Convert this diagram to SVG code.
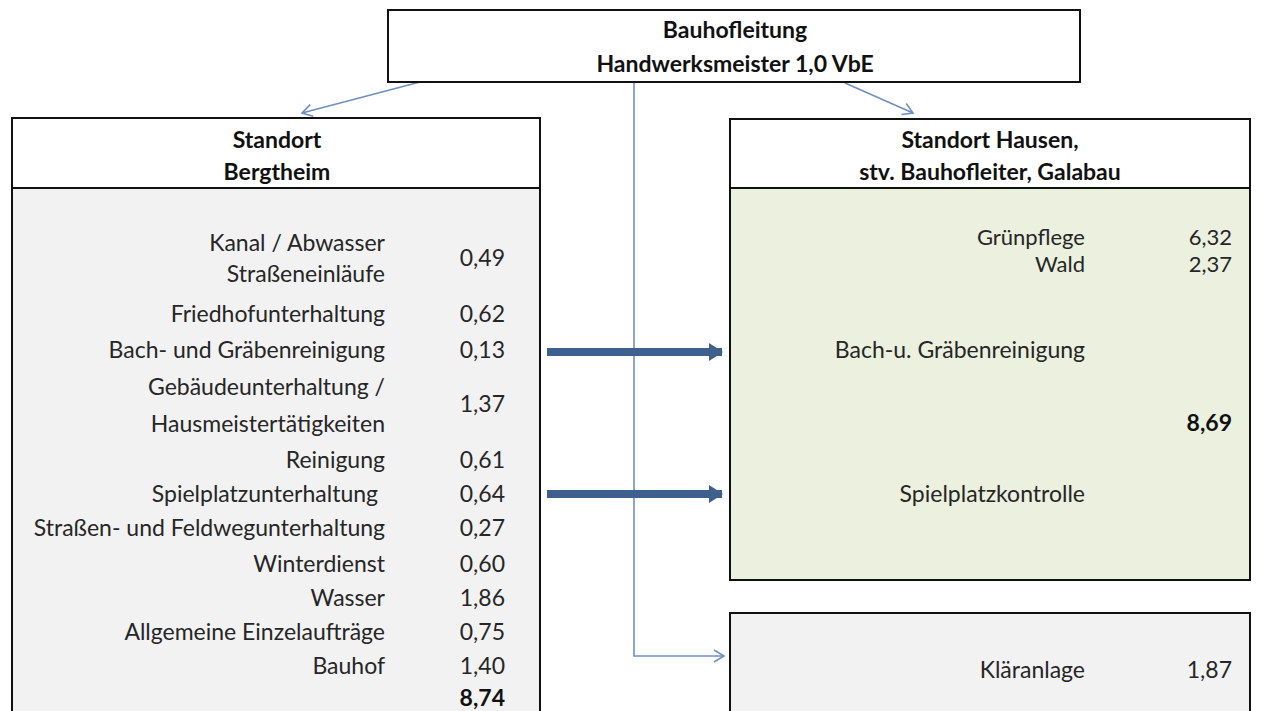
<svg xmlns="http://www.w3.org/2000/svg" width="1270" height="711" viewBox="0 0 1270 711">
<style>
  text { font-family: Lato, "Liberation Sans", sans-serif; font-size: 23px; fill: #262626; }
  .b { font-weight: bold; fill: #111; }
  .r { text-anchor: end; }
  .c { text-anchor: middle; }
  .s { font-size: 22px; }
  .box { stroke: #111; stroke-width: 2; }
  .thin { fill: none; stroke: #6f8fc2; stroke-width: 1.6; }
  .thick { fill: none; stroke: #3f5f8e; stroke-width: 8; }
</style>
<defs>
  <marker id="open" markerUnits="userSpaceOnUse" markerWidth="16" markerHeight="16" refX="12" refY="7" orient="auto" viewBox="0 0 16 14">
    <path d="M2,1 L12,7 L2,13" fill="none" stroke="#6f8fc2" stroke-width="1.6"/>
  </marker>
  <marker id="solid" markerUnits="userSpaceOnUse" markerWidth="14" markerHeight="18" refX="13" refY="9" orient="auto" viewBox="0 0 14 18">
    <path d="M0,0 L14,9 L0,18 Z" fill="#3f5f8e"/>
  </marker>
</defs>
<rect width="1270" height="711" fill="#ffffff"/>

<g id="connectors">
  <line class="thin" x1="420" y1="82" x2="302" y2="113" marker-end="url(#open)"/>
  <line class="thin" x1="845" y1="83" x2="913" y2="113" marker-end="url(#open)"/>
  <polyline class="thin" points="634,82 634,656 724,656" marker-end="url(#open)"/>
</g>

<g id="bauhofleitung">
  <rect class="box" x="388" y="10" width="692" height="72" fill="#ffffff"/>
  <text class="b c" x="735" y="38">Bauhofleitung</text>
  <text class="b c" x="735" y="72">Handwerksmeister 1,0 VbE</text>
</g>

<g id="standort-bergtheim">
  <rect x="12" y="188" width="528" height="530" fill="#f2f2f2"/>
  <rect x="12" y="118" width="528" height="70" fill="#ffffff"/>
  <path class="box" fill="none" d="M12,720 L12,118 L540,118 L540,720 M12,188 L540,188"/>
  <text class="b c" x="277" y="148">Standort</text>
  <text class="b c" x="277" y="180">Bergtheim</text>
  <text class="r" x="385" y="251">Kanal / Abwasser</text>
  <text class="r" x="505" y="266">0,49</text>
  <text class="r" x="385" y="282">Straßeneinläufe</text>
  <text class="r" x="385" y="322">Friedhofunterhaltung</text>
  <text class="r" x="505" y="322">0,62</text>
  <text class="r" x="385" y="358">Bach- und Gräbenreinigung</text>
  <text class="r" x="505" y="358">0,13</text>
  <text class="r" x="385" y="395">Gebäudeunterhaltung /</text>
  <text class="r" x="505" y="412">1,37</text>
  <text class="r" x="385" y="432">Hausmeistertätigkeiten</text>
  <text class="r" x="385" y="468">Reinigung</text>
  <text class="r" x="505" y="468">0,61</text>
  <text class="r" x="378" y="502">Spielplatzunterhaltung</text>
  <text class="r" x="505" y="502">0,64</text>
  <text class="r" x="385" y="536">Straßen- und Feldwegunterhaltung</text>
  <text class="r" x="505" y="536">0,27</text>
  <text class="r" x="385" y="572">Winterdienst</text>
  <text class="r" x="505" y="572">0,60</text>
  <text class="r" x="385" y="606">Wasser</text>
  <text class="r" x="505" y="606">1,86</text>
  <text class="r" x="385" y="640">Allgemeine Einzelaufträge</text>
  <text class="r" x="505" y="640">0,75</text>
  <text class="r" x="385" y="674">Bauhof</text>
  <text class="r" x="505" y="674">1,40</text>
  <text class="b r" x="505" y="706">8,74</text>
</g>

<g id="standort-hausen">
  <rect x="730" y="188" width="520" height="392" fill="#ebf0df"/>
  <rect x="730" y="119" width="520" height="69" fill="#ffffff"/>
  <rect class="box" x="730" y="119" width="520" height="461" fill="none"/>
  <line class="box" x1="730" y1="188" x2="1250" y2="188"/>
  <text class="b c" x="990" y="148">Standort Hausen,</text>
  <text class="b c" x="990" y="180">stv. Bauhofleiter, Galabau</text>
  <text class="r s" x="1085" y="245">Grünpflege</text>
  <text class="r s" x="1232" y="245">6,32</text>
  <text class="r s" x="1085" y="272">Wald</text>
  <text class="r s" x="1232" y="272">2,37</text>
  <text class="r" x="1085" y="358">Bach-u. Gräbenreinigung</text>
  <text class="b r" x="1232" y="431">8,69</text>
  <text class="r" x="1085" y="502">Spielplatzkontrolle</text>
</g>

<g id="klaeranlage">
  <rect x="730" y="613" width="520" height="110" fill="#f2f2f2"/>
  <path class="box" fill="none" d="M730,720 L730,613 L1250,613 L1250,720"/>
  <text class="r" x="1085" y="678">Kläranlage</text>
  <text class="r" x="1232" y="678">1,87</text>
</g>

<g id="transfer-arrows">
  <line class="thick" x1="547" y1="352" x2="722" y2="352" marker-end="url(#solid)"/>
  <line class="thick" x1="547" y1="494" x2="722" y2="494" marker-end="url(#solid)"/>
</g>
</svg>
